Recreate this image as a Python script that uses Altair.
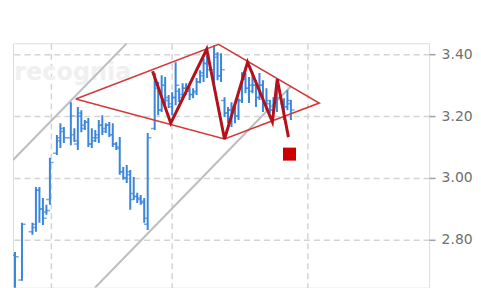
import altair as alt
import pandas as pd

# ---- price bars (day index, open, high, low, close) ----
days  = [0, 2, 5, 6, 7, 8, 9, 10, 12, 13, 14, 16, 17, 18, 19, 20, 21, 22, 23, 24,
         25, 26, 27, 28, 29, 30, 31, 32, 33, 34, 35, 36, 37, 38, 40, 41, 42, 43, 44, 45,
         46, 47, 48, 49, 50, 51, 52, 53, 54, 55, 57, 58, 59, 60, 61, 62, 63, 64, 65, 66,
         67, 68, 69, 70, 71, 72, 73, 74, 75, 77, 78, 79]
highs = [2.761, 2.855, 2.855, 2.971, 2.971, 2.935, 2.913, 3.065, 3.139, 3.177, 3.165, 3.245, 3.161, 3.229, 3.219, 3.187, 3.194, 3.161, 3.155, 3.187,
         3.203, 3.177, 3.181, 3.177, 3.116, 3.132, 3.035, 3.042, 3.026, 3.003, 2.952, 2.945, 2.935, 3.145, 3.339, 3.310, 3.332, 3.326, 3.268, 3.277,
         3.374, 3.290, 3.306, 3.306, 3.294, 3.290, 3.323, 3.348, 3.387, 3.397, 3.429, 3.406, 3.403, 3.261, 3.229, 3.245, 3.229, 3.258, 3.342, 3.339,
         3.326, 3.342, 3.316, 3.339, 3.316, 3.290, 3.252, 3.261, 3.310, 3.258, 3.284, 3.252]
lows  = [2.635, 2.668, 2.816, 2.826, 2.855, 2.848, 2.881, 2.913, 3.074, 3.097, 3.113, 3.106, 3.116, 3.090, 3.148, 3.155, 3.100, 3.097, 3.116, 3.113,
         3.139, 3.145, 3.132, 3.100, 3.090, 3.010, 2.994, 2.984, 2.897, 2.929, 2.919, 2.913, 2.855, 2.832, 3.155, 3.203, 3.213, 3.235, 3.226, 3.203,
         3.235, 3.245, 3.258, 3.268, 3.252, 3.258, 3.268, 3.306, 3.310, 3.323, 3.284, 3.316, 3.310, 3.197, 3.177, 3.165, 3.177, 3.187, 3.242, 3.274,
         3.242, 3.274, 3.229, 3.252, 3.213, 3.219, 3.210, 3.210, 3.213, 3.187, 3.219, 3.187]
opens = [2.750, 2.670, 2.826, 2.840, 2.960, 2.900, 2.890, 2.930, 3.080, 3.120, 3.150, 3.130, 3.140, 3.110, 3.200, 3.170, 3.180, 3.110, 3.130, 3.130,
         3.170, 3.160, 3.170, 3.140, 3.110, 3.100, 3.020, 3.000, 3.010, 2.950, 2.940, 2.935, 2.920, 2.850, 3.160, 3.290, 3.220, 3.300, 3.250, 3.230,
         3.260, 3.280, 3.270, 3.290, 3.280, 3.270, 3.280, 3.310, 3.330, 3.370, 3.350, 3.390, 3.330, 3.250, 3.210, 3.220, 3.230, 3.200, 3.250, 3.320,
         3.290, 3.280, 3.300, 3.260, 3.300, 3.240, 3.240, 3.220, 3.230, 3.240, 3.230, 3.240]
closes = [2.745, 2.850, 2.850, 2.960, 2.900, 2.870, 2.895, 3.050, 3.130, 3.160, 3.130, 3.200, 3.120, 3.210, 3.160, 3.180, 3.110, 3.120, 3.140, 3.170,
          3.150, 3.170, 3.140, 3.110, 3.095, 3.020, 3.000, 3.020, 2.930, 2.940, 2.930, 2.925, 2.870, 3.130, 3.300, 3.220, 3.300, 3.260, 3.240, 3.260,
          3.300, 3.260, 3.290, 3.280, 3.270, 3.275, 3.310, 3.340, 3.370, 3.350, 3.400, 3.330, 3.350, 3.210, 3.220, 3.230, 3.200, 3.250, 3.320, 3.290,
          3.300, 3.300, 3.260, 3.300, 3.240, 3.250, 3.220, 3.240, 3.260, 3.230, 3.250, 3.220]

# ---- pattern overlays ----
diamond_day   = [17.4, 58.3, 87.1, 60.0, 17.4]
diamond_price = [3.255, 3.432, 3.242, 3.126, 3.255]

zig_day   = [39.4, 44.6, 54.9, 60.0, 66.6, 73.7, 75.1, 78.3]
zig_price = [3.345, 3.177, 3.416, 3.126, 3.374, 3.181, 3.319, 3.132]

chan_id    = ["a", "a", "b", "b"]
chan_day   = [-0.57, 32.0, 22.9, 79.1]
chan_price = [3.058, 3.435, 2.645, 3.297]

target_day, target_price = [78.6], [3.077]

grid_days = [10.3, 44.9, 83.7]
y_ticks = [2.8, 3.0, 3.2, 3.4]

XDOM = [-0.571, 118.571]
YDOM = [2.6452, 3.4355]

bars = pd.DataFrame({"day": days, "open": opens, "high": highs, "low": lows, "close": closes})
diamond = pd.DataFrame({"day": diamond_day, "price": diamond_price, "o": range(len(diamond_day))})
zig = pd.DataFrame({"day": zig_day, "price": zig_price, "o": range(len(zig_day))})
chan = pd.DataFrame({"id": chan_id, "day": chan_day, "price": chan_price})
target = pd.DataFrame({"day": target_day, "price": target_price})

xs = alt.Scale(domain=XDOM, nice=False, zero=False)
ys = alt.Scale(domain=YDOM, nice=False, zero=False)

xaxis = alt.Axis(values=grid_days, labels=False, ticks=False, domain=False, grid=True,
                 gridColor="#d4d4d4", gridDash=[6, 4], gridWidth=1.5, title=None)
yaxis = alt.Axis(orient="right", values=y_ticks, format=".2f", grid=True, gridColor="#d4d4d4",
                 gridDash=[6, 4], gridWidth=1.5, domain=False, tickColor="#a0a0a0", tickWidth=1.5,
                 tickSize=6, labelColor="#707070", labelFont="DejaVu Sans", labelFontSize=14,
                 labelPadding=6, title=None)

base_x = alt.X("day:Q", scale=xs, axis=xaxis)

watermark = alt.Chart(pd.DataFrame({"t": ["recognia"]})).mark_text(
    font="DejaVu Sans", fontSize=24, fontWeight="bold", color="#f0f0f0", align="center", baseline="middle"
).encode(x=alt.value(60), y=alt.value(30), text="t:N")

channel = alt.Chart(chan).mark_line(color="#bdbdbd", strokeWidth=2, clip=True).encode(
    x=alt.X("day:Q", scale=xs, axis=xaxis), y=alt.Y("price:Q", scale=ys, axis=yaxis), detail="id:N")

rng = alt.Chart(bars).mark_rule(color="#3b86dc", strokeWidth=2, clip=True).encode(
    x=base_x, y=alt.Y("low:Q", scale=ys, axis=yaxis), y2="high:Q")
otick = alt.Chart(bars).mark_tick(color="#3b86dc", orient="horizontal", size=3.5, thickness=1.5,
                                  xOffset=-2, clip=True).encode(x=base_x, y=alt.Y("open:Q", scale=ys, axis=yaxis))
ctick = alt.Chart(bars).mark_tick(color="#3b86dc", orient="horizontal", size=3.5, thickness=1.5,
                                  xOffset=2, clip=True).encode(x=base_x, y=alt.Y("close:Q", scale=ys, axis=yaxis))

dia = alt.Chart(diamond).mark_line(color="#d23a3a", strokeWidth=1.6, clip=True).encode(
    x=base_x, y=alt.Y("price:Q", scale=ys, axis=yaxis), order="o:Q")
zz = alt.Chart(zig).mark_line(color="#b3121c", strokeWidth=3, clip=True).encode(
    x=base_x, y=alt.Y("price:Q", scale=ys, axis=yaxis), order="o:Q")
sq = alt.Chart(target).mark_square(color="#cc0000", size=170, opacity=1, filled=True).encode(
    x=base_x, y=alt.Y("price:Q", scale=ys, axis=yaxis))

chart = alt.layer(watermark, channel, rng, otick, ctick, dia, zz, sq).properties(
    width=417, height=245,
    padding={"left": 5, "top": 35, "right": 0, "bottom": 0},
).configure_view(stroke="#bdbdbd", strokeWidth=2).configure(background="white")

chart.save("out.html", embed_options={"renderer": "svg", "actions": False})
